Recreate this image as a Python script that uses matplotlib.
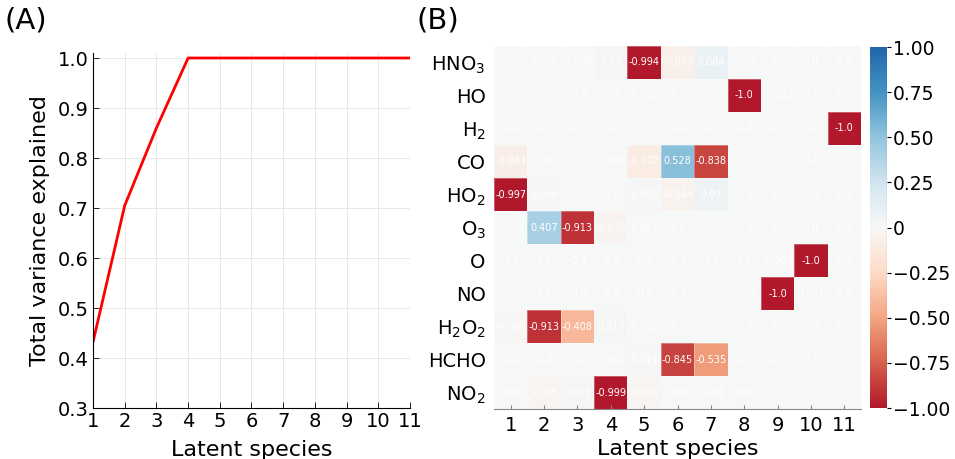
import numpy as np
import matplotlib
matplotlib.use("Agg")
import matplotlib.pyplot as plt
from matplotlib.colors import Normalize, LinearSegmentedColormap

# ---- Panel A data ----
latent_idx = [1, 2, 3, 4, 5, 6, 7, 8, 9, 10, 11]
variance_explained = [0.432, 0.705, 0.86, 1.0, 1.0, 1.0, 1.0, 1.0, 1.0, 1.0, 1.0]

# ---- Panel B data ----
species = ["HNO$_3$", "HO", "H$_2$", "CO", "HO$_2$", "O$_3$", "O", "NO",
           "H$_2$O$_2$", "HCHO", "NO$_2$"]
latent_labels = ["1", "2", "3", "4", "5", "6", "7", "8", "9", "10", "11"]

row_HNO3 = [0.0, 0.006, -0.006, 0.03, -0.994, -0.069, 0.084, 0.002, 0.0, 0.0, 0.0]
row_HO = [0.0, 0.0, -0.0, 0.0, -0.002, -0.0, -0.0, -1.0, -0.002, -0.0, 0.0]
row_H2 = [-0.0, 0.0, -0.0, 0.0, -0.0, -0.0, 0.0, -0.0, -0.0, 0.0, -1.0]
row_CO = [-0.083, 0.001, -0.0, 0.003, -0.107, 0.528, -0.838, 0.0, -0.0, -0.0, -0.0]
row_HO2 = [-0.997, 0.009, 0.0, -0.0, 0.009, -0.044, 0.07, -0.0, 0.0, 0.0, 0.0]
row_O3 = [0.004, 0.407, -0.913, -0.036, 0.007, 0.0, -0.0, -0.0, 0.0, 0.0, -0.0]
row_O = [0.0, 0.0, -0.0, -0.0, -0.0, -0.0, 0.0, 0.0, -0.001, -1.0, -0.0]
row_NO = [0.0, 0.0, -0.0, -0.0, -0.0, -0.0, 0.0, 0.002, -1.0, 0.001, 0.0]
row_H2O2 = [-0.009, -0.913, -0.408, 0.017, -0.003, -0.0, -0.0, -0.0, 0.0, 0.0, -0.0]
row_HCHO = [-0.0, -0.0, 0.0, -0.001, 0.014, -0.845, -0.535, 0.0, -0.0, -0.0, -0.0]
row_NO2 = [-0.0, -0.03, 0.025, -0.999, -0.031, -0.0, 0.001, -0.0, -0.0, 0.0, 0.0]

matrix = np.array([row_HNO3, row_HO, row_H2, row_CO, row_HO2, row_O3, row_O,
                   row_NO, row_H2O2, row_HCHO, row_NO2])

cbar_ticks = [-1.0, -0.75, -0.5, -0.25, 0.0, 0.25, 0.5, 0.75, 1.0]
cbar_ticklabels = ["\u22121.00", "\u22120.75", "\u22120.50", "\u22120.25", "0",
                   "0.25", "0.50", "0.75", "1.00"]

rdbu9 = ["#b2182b", "#d6604d", "#f4a582", "#fddbc7", "#f7f7f7",
         "#d1e5f0", "#92c5de", "#4393c3", "#2166ac"]
cmap = LinearSegmentedColormap.from_list("rdbu9", rdbu9, N=256)

plt.rcParams["font.family"] = "DejaVu Sans"

fig = plt.figure(figsize=(9.55, 4.59), dpi=100)

# ---------- Panel A ----------
axA = fig.add_axes([0.0974, 0.1111, 0.3319, 0.7734])
axA.plot(latent_idx, variance_explained, color="red", lw=2)
axA.set_xlim(1, 11)
axA.set_ylim(0.3, 1.01)
axA.set_xticks(latent_idx)
axA.set_yticks([0.3, 0.4, 0.5, 0.6, 0.7, 0.8, 0.9, 1.0])
axA.set_yticklabels(["0.3", "0.4", "0.5", "0.6", "0.7", "0.8", "0.9", "1.0"])
axA.grid(True, color="#e5e5e5", lw=0.6)
axA.set_axisbelow(True)
for s in ["top", "right"]:
    axA.spines[s].set_visible(False)
for s in ["left", "bottom"]:
    axA.spines[s].set_linewidth(0.8)
axA.tick_params(direction="in", labelsize=14, length=4, width=0.6, pad=3)
axA.set_xlabel("Latent species", fontsize=16, labelpad=6)
axA.set_ylabel("Total variance explained", fontsize=16, labelpad=6)
fig.text(0.005, 0.985, "(A)", fontsize=21, va="top", ha="left")

# ---------- Panel B ----------
axB = fig.add_axes([0.5173, 0.1089, 0.3843, 0.7909])
norm = Normalize(vmin=-1, vmax=1)
nrows, ncols = matrix.shape
mesh = axB.pcolormesh(np.arange(ncols + 1), np.arange(nrows + 1), matrix,
                      cmap=cmap, norm=norm, edgecolors=(1, 1, 1, 0.3),
                      linewidth=0.4)
axB.set_xlim(0, ncols)
axB.set_ylim(nrows, 0)
for i in range(nrows):
    for j in range(ncols):
        v = matrix[i, j]
        axB.text(j + 0.5, i + 0.5, str(round(float(v), 3)), ha="center",
                 va="center", color="white", fontsize=7)
axB.set_xticks(np.arange(ncols) + 0.5)
axB.set_xticklabels(latent_labels)
axB.set_yticks(np.arange(nrows) + 0.5)
axB.set_yticklabels(species)
for s in ["top", "right", "left"]:
    axB.spines[s].set_visible(False)
axB.spines["bottom"].set_color("#888888")
axB.spines["bottom"].set_linewidth(0.8)
axB.tick_params(axis="x", direction="in", length=3, color="#888888",
                labelsize=14, pad=5)
axB.tick_params(axis="y", length=0, labelsize=14, pad=6)
axB.set_xlabel("Latent species", fontsize=16, labelpad=3)
fig.text(0.436, 0.985, "(B)", fontsize=21, va="top", ha="left")

cax = fig.add_axes([0.911, 0.111, 0.0178, 0.7866])
cb = fig.colorbar(mesh, cax=cax)
cb.set_ticks(cbar_ticks)
cb.set_ticklabels(cbar_ticklabels)
cb.outline.set_visible(False)
cax.tick_params(labelsize=13.5, length=3, width=0.8, pad=1)
cax.axvline(1.0, color="#444444", lw=0.8)

fig.savefig("out.png", dpi=100)
